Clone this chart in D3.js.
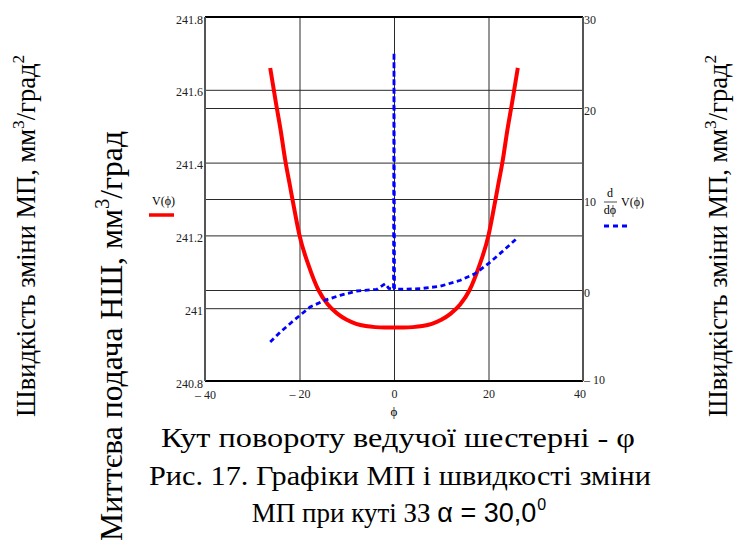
<!DOCTYPE html>
<html>
<head>
<meta charset="utf-8">
<script src="https://cdn.jsdelivr.net/npm/d3@7"></script>
<style>
  body { margin: 0; background: #fff; }
  svg { display: block; }
</style>
</head>
<body>
<svg id="chart" width="747" height="546"></svg>
<script>
// V(phi) - red curve, left axis
const phiV = [-26.2, -25, -24, -23, -22, -21, -20, -18, -16, -14, -12, -10, -8, -6, -4, -2, 0,
              2, 4, 6, 8, 10, 12, 14, 16, 18, 20, 21, 22, 23, 24, 25, 26.2]
const valV = [241.66, 241.565, 241.49, 241.405, 241.335, 241.265, 241.2, 241.115, 241.05, 241.01, 240.985, 240.968, 240.957, 240.951, 240.948, 240.947, 240.947,
              240.947, 240.948, 240.951, 240.957, 240.968, 240.985, 241.01, 241.05, 241.115, 241.2, 241.265, 241.335, 241.405, 241.49, 241.565, 241.66]

// dV/dphi - blue dashed curve, right axis (spike at 0 is in the original)
const phiD = [-26.2, -24, -21.6, -19.9, -17.75, -14.6, -11.4, -7.85, -3.6, -1.85, -1.1, -0.1, 0, 0.1, 1.7, 5.6, 9.8, 14.06, 17.2, 20.4, 23.25, 25.95]
const valD = [-5.72, -4.6, -3.52, -2.78, -1.87, -1.13, -0.58, -0.11, 0.08, 0.7, 0.18, 0.1, 26.1, 0.1, 0.08, 0.15, 0.41, 1.07, 1.8, 3.08, 4.37, 5.65]

const xTicks = [-40, -20, 0, 20, 40]
const yLeftTicks = [240.8, 241, 241.2, 241.4, 241.6, 241.8]
const yRightTicks = [-10, 0, 10, 20, 30]

const plotLeft = 205, plotRight = 583, plotTop = 17, plotBottom = 381

// pick the first serif face that is really installed
function hasFont(name) {
  const ctx = document.createElement("canvas").getContext("2d")
  const probe = "Кут повороту Швидкість 241.8 mmWi"
  for (const fb of ["monospace", "sans-serif"]) {
    ctx.font = `27px ${fb}`
    const w0 = ctx.measureText(probe).width
    ctx.font = `27px "${name}", ${fb}`
    if (Math.abs(ctx.measureText(probe).width - w0) < 0.01) return false
  }
  return true
}
const serifList = ["Liberation Serif", "Times New Roman", "Tinos", "DejaVu Serif", "Noto Serif", "FreeSerif", "Nimbus Roman", "Noto Serif CJK SC"]
const found = serifList.find(hasFont)
const serif = found ? `"${found}", serif` : "serif"
const sans = "Liberation Sans, DejaVu Sans, sans-serif"

const svg = d3.select("#chart")
svg.append("rect").attr("width", 747).attr("height", 546).attr("fill", "#fff")

const x = d3.scaleLinear().domain([-40, 40]).range([plotLeft, plotRight])
const yL = d3.scaleLinear().domain([240.8, 241.8]).range([plotBottom, plotTop])
const yR = d3.scaleLinear().domain([-10, 30]).range([plotBottom, plotTop])

const fmt = d => d < 0 ? "\u2013 " + Math.abs(d) : String(d)

// grid + axes
const gx = svg.append("g").attr("transform", `translate(0,${plotBottom})`)
  .call(d3.axisBottom(x).tickValues(xTicks).tickSize(-(plotBottom - plotTop)).tickPadding(8).tickFormat(fmt))
const gl = svg.append("g").attr("transform", `translate(${plotLeft},0)`)
  .call(d3.axisLeft(yL).tickValues(yLeftTicks).tickSize(-(plotRight - plotLeft)).tickPadding(2).tickFormat(d => String(d)))
const gr = svg.append("g").attr("transform", `translate(${plotRight},0)`)
  .call(d3.axisRight(yR).tickValues(yRightTicks).tickSize(-(plotRight - plotLeft)).tickPadding(1).tickFormat(fmt))

for (const g of [gx, gl, gr]) {
  g.select(".domain").remove()
  g.selectAll(".tick line").attr("stroke", "#2a2a2a").attr("stroke-width", 1)
  g.selectAll(".tick text").attr("font-family", serif).attr("font-size", 12).attr("fill", "#222")
}
gl.selectAll(".tick text").attr("dy", "0.5em")
gr.selectAll(".tick text").attr("dy", "0.5em")
gr.selectAll(".tick").filter(d => d === -10).select("text").attr("dy", "0.2em")
gx.selectAll(".tick").filter(d => d === 40).select("text").attr("dx", "-0.3em")
gx.selectAll(".tick").filter(d => d === -40).select("text").attr("dy", "0.85em")

// frame
svg.append("line").attr("x1", plotLeft).attr("x2", plotRight).attr("y1", plotTop).attr("y2", plotTop)
  .attr("stroke", "#000").attr("stroke-width", 2)
svg.append("line").attr("x1", plotLeft).attr("x2", plotRight).attr("y1", plotBottom).attr("y2", plotBottom)
  .attr("stroke", "#000").attr("stroke-width", 2)
svg.append("line").attr("x1", plotLeft).attr("x2", plotLeft).attr("y1", plotTop).attr("y2", plotBottom)
  .attr("stroke", "#555").attr("stroke-width", 2)
svg.append("line").attr("x1", plotRight).attr("x2", plotRight).attr("y1", plotTop).attr("y2", plotBottom)
  .attr("stroke", "#555").attr("stroke-width", 2)

// curves
const lineV = d3.line().x((d, i) => x(phiV[i])).y(d => yL(d)).curve(d3.curveMonotoneX)
svg.append("path").datum(valV).attr("d", lineV)
  .attr("fill", "none").attr("stroke", "#ff0000").attr("stroke-width", 4)

const lineD = d3.line().x((d, i) => x(phiD[i])).y(d => yR(d))
svg.append("path").datum(valD).attr("d", lineD)
  .attr("fill", "none").attr("stroke", "#0000ff").attr("stroke-width", 2.8)
  .attr("stroke-dasharray", "5,3.5")

// x axis label
svg.append("text").attr("x", x(0)).attr("y", 416).attr("text-anchor", "middle")
  .attr("font-family", serif).attr("font-size", 13).text("\u03d5")

// legend left
svg.append("text").attr("x", 152).attr("y", 205).attr("font-family", serif).attr("font-size", 12)
  .text("V(\u03d5)")
svg.append("line").attr("x1", 149).attr("x2", 174).attr("y1", 215).attr("y2", 215)
  .attr("stroke", "#ff0000").attr("stroke-width", 3.5)

// legend right
svg.append("text").attr("x", 610).attr("y", 197).attr("text-anchor", "middle")
  .attr("font-family", serif).attr("font-size", 12).text("d")
svg.append("line").attr("x1", 604).attr("x2", 617).attr("y1", 202).attr("y2", 202)
  .attr("stroke", "#222").attr("stroke-width", 0.8)
svg.append("text").attr("x", 610).attr("y", 214).attr("text-anchor", "middle")
  .attr("font-family", serif).attr("font-size", 12).text("d\u03d5")
svg.append("text").attr("x", 621).attr("y", 206).attr("font-family", serif).attr("font-size", 12)
  .text("V(\u03d5)")
svg.append("line").attr("x1", 604).attr("x2", 630).attr("y1", 226).attr("y2", 226)
  .attr("stroke", "#0000ff").attr("stroke-width", 2.8).attr("stroke-dasharray", "5,4")

// vertical axis titles
function vtitle(px, py, size, len, main, sup1, mid, sup2) {
  const t = svg.append("text").attr("transform", `translate(${px},${py}) rotate(-90)`)
    .attr("text-anchor", "middle").attr("font-family", serif).attr("font-size", size)
    .attr("textLength", len).attr("lengthAdjust", "spacingAndGlyphs")
  t.append("tspan").text(main)
  t.append("tspan").attr("dy", -size * 0.4).attr("font-size", size * 0.65).text(sup1)
  t.append("tspan").attr("dy", size * 0.4).text(mid)
  if (sup2) t.append("tspan").attr("dy", -size * 0.4).attr("font-size", size * 0.65).text(sup2)
  return t
}
vtitle(35, 236, 27, 362, "Швидкість зміни МП, мм", "3", "/град", "2")
vtitle(122, 336, 32, 410, "Миттєва подача НШ, мм", "3", "/град", null)
vtitle(727, 236, 27, 362, "Швидкість зміни МП, мм", "3", "/град", "2")

// caption
svg.append("text").attr("x", 398).attr("y", 447).attr("text-anchor", "middle")
  .attr("font-family", serif).attr("font-size", 27)
  .attr("textLength", 474).attr("lengthAdjust", "spacingAndGlyphs")
  .text("Кут повороту ведучої шестерні - \u03c6")
svg.append("text").attr("x", 400).attr("y", 485).attr("text-anchor", "middle")
  .attr("font-family", serif).attr("font-size", 27)
  .attr("textLength", 502).attr("lengthAdjust", "spacingAndGlyphs")
  .text("Рис. 17. Графіки МП і швидкості зміни")
const cap3 = svg.append("text").attr("x", 399).attr("y", 522).attr("text-anchor", "middle")
  .attr("font-family", serif).attr("font-size", 27)
cap3.append("tspan").text("МП при куті ЗЗ ")
cap3.append("tspan").attr("font-family", sans).text("\u03b1 = 30,0")
cap3.append("tspan").attr("dy", -12).attr("dx", 1).attr("font-size", 16)
  .attr("font-family", sans).text("0")
</script>
</body>
</html>
